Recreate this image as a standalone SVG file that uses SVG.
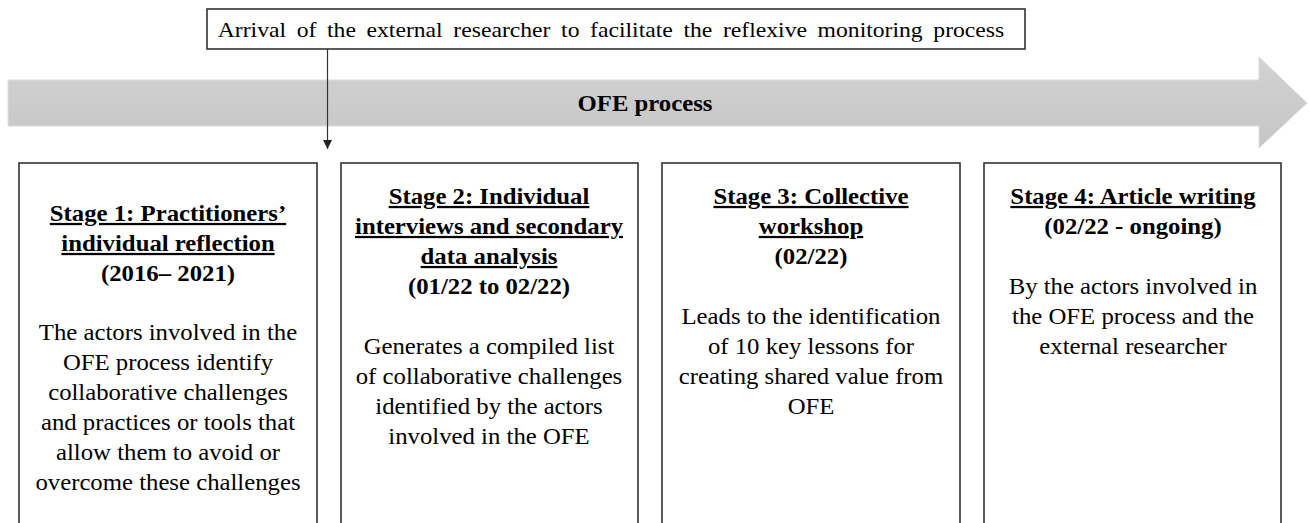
<svg xmlns="http://www.w3.org/2000/svg" width="1309" height="523" viewBox="0 0 1309 523">
  <style>
    .box { fill: #ffffff; stroke: #333333; stroke-width: 1.6; }
    .t { font-family: "Liberation Serif", "Times New Roman", serif; font-size: 22.5px; fill: #000000; text-anchor: middle; }
    .b { font-weight: bold; }
    .u { text-decoration: underline; }
    .conn { stroke: #333333; stroke-width: 1.2; fill: none; }
  </style>
  <defs>
    <linearGradient id="band" x1="0" y1="0" x2="0" y2="1">
      <stop offset="0" stop-color="#d2d2d2"/>
      <stop offset="1" stop-color="#c6c6c6"/>
    </linearGradient>
    <marker id="ah" markerWidth="9" markerHeight="9" refX="9" refY="4.5" orient="auto" markerUnits="userSpaceOnUse">
      <path d="M0,0 L9,4.5 L0,9 Z" fill="#222222"/>
    </marker>
  </defs>

  <g id="ofe-process">
    <path d="M8,80 L1259,80 L1259,57 L1307,103 L1259,148 L1259,126 L8,126 Z" fill="url(#band)" stroke="#dcdcdc" stroke-width="1"/>
    <g transform="translate(645 111) scale(1.1 1)">
      <text class="t b" x="0" y="0">OFE process</text>
    </g>
  </g>

  <g id="arrival">
    <rect class="box" x="207" y="9" width="818" height="40"/>
    <g transform="translate(611 37) scale(1.1 1)">
      <text class="t" x="0" y="0" style="font-size:21.5px; word-spacing:4.3px">Arrival of the external researcher to facilitate the reflexive monitoring process</text>
    </g>
  </g>

  <g id="connectors">
    <line class="conn" x1="327.5" y1="49" x2="327.5" y2="149" marker-end="url(#ah)"/>
  </g>

  <g id="stage1">
    <rect class="box" x="19" y="163" width="298" height="380"/>
    <g transform="translate(168 0) scale(1.1 1)">
      <text class="t b u" x="0" y="221">Stage 1: Practitioners’</text>
      <text class="t b u" x="0" y="251">individual reflection</text>
      <text class="t b" x="0" y="281">(2016– 2021)</text>
      <text class="t" x="0" y="340">The actors involved  in the</text>
      <text class="t" x="0" y="370">OFE process identify</text>
      <text class="t" x="0" y="400">collaborative  challenges</text>
      <text class="t" x="0" y="430">and practices or tools that</text>
      <text class="t" x="0" y="460">allow  them to avoid  or</text>
      <text class="t" x="0" y="490">overcome  these challenges</text>
    </g>
  </g>

  <g id="stage2">
    <rect class="box" x="341" y="163" width="297" height="380"/>
    <g transform="translate(489 0) scale(1.1 1)">
      <text class="t b u" x="0" y="204">Stage 2: Individual</text>
      <text class="t b u" x="0" y="234">interviews  and secondary</text>
      <text class="t b u" x="0" y="264">data analysis</text>
      <text class="t b" x="0" y="294">(01/22 to 02/22)</text>
      <text class="t" x="0" y="354">Generates a compiled  list</text>
      <text class="t" x="0" y="384">of collaborative  challenges</text>
      <text class="t" x="0" y="414">identified  by the actors</text>
      <text class="t" x="0" y="444">involved  in the OFE</text>
    </g>
  </g>

  <g id="stage3">
    <rect class="box" x="662" y="163" width="298" height="380"/>
    <g transform="translate(811 0) scale(1.1 1)">
      <text class="t b u" x="0" y="204">Stage 3: Collective</text>
      <text class="t b u" x="0" y="234">workshop</text>
      <text class="t b" x="0" y="264">(02/22)</text>
      <text class="t" x="0" y="324">Leads to the identification</text>
      <text class="t" x="0" y="354">of 10 key lessons  for</text>
      <text class="t" x="0" y="384">creating  shared value from</text>
      <text class="t" x="0" y="414">OFE</text>
    </g>
  </g>

  <g id="stage4">
    <rect class="box" x="984" y="163" width="297" height="380"/>
    <g transform="translate(1133 0) scale(1.1 1)">
      <text class="t b u" x="0" y="204">Stage 4: Article writing</text>
      <text class="t b" x="0" y="234">(02/22 - ongoing)</text>
      <text class="t" x="0" y="294">By the actors involved  in</text>
      <text class="t" x="0" y="324">the OFE process and the</text>
      <text class="t" x="0" y="354">external  researcher</text>
    </g>
  </g>
</svg>
